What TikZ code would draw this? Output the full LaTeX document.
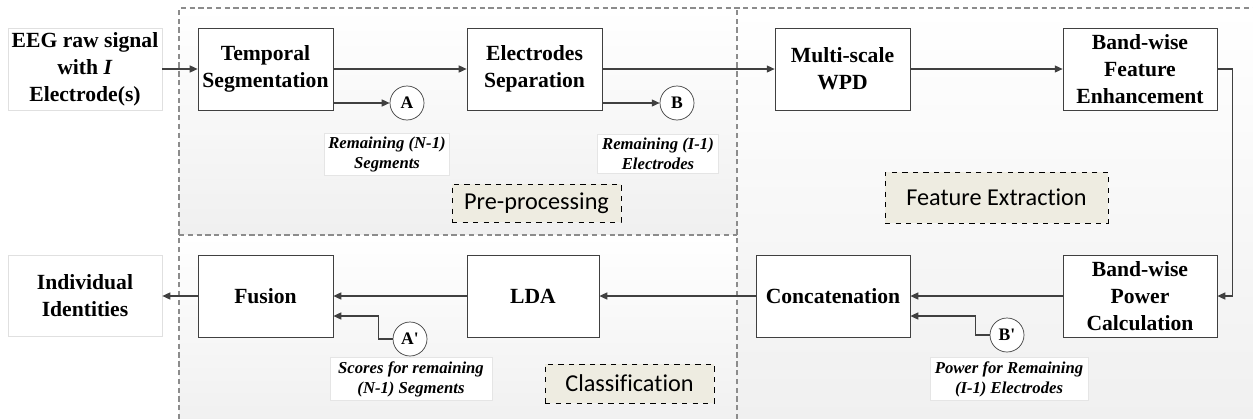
\documentclass[tikz,border=0pt]{standalone}
\usepackage{fontspec}
\setmainfont{Liberation Serif}
\newfontfamily\tagfont[Ligatures=NoCommon]{Carlito}
\usetikzlibrary{arrows.meta}

\definecolor{linegray}{HTML}{404040}
\definecolor{framegray}{HTML}{8C8C8C}
\definecolor{tagfill}{HTML}{EEECE1}

\tikzset{
  block/.style={draw=linegray, fill=white, minimum width=2.7cm, minimum height=1.64cm,
    inner sep=1pt, align=center, font=\bfseries\fontsize{12.3}{15.4}\selectfont},
  iobox/.style={draw=black!12, fill=white, minimum width=3.08cm, minimum height=1.64cm,
    inner sep=1pt, align=center, font=\bfseries\fontsize{12.3}{15.4}\selectfont},
  joint/.style={circle, draw=linegray, fill=white, minimum size=0.68cm, inner sep=0pt,
    font=\bfseries\fontsize{10}{12}\selectfont},
  note/.style={draw=black!10, fill=white, inner sep=2pt, align=center,
    font=\bfseries\itshape\fontsize{9.5}{11.4}\selectfont},
  tagbox/.style={draw=black, dashed, fill=tagfill, minimum height=0.76cm,
    font=\tagfont\fontsize{13.8}{16}\selectfont},
  arr/.style={draw=linegray, line width=0.7pt, -{Triangle[length=4.5pt,width=4pt]}},
  region/.style={draw=framegray, dash pattern=on 3pt off 2pt, line width=0.6pt}
}

\begin{document}
\begin{tikzpicture}

\useasboundingbox (0,0) rectangle (25.06,8.36);
\clip (0,0) rectangle (25.06,8.36);

% The regions
\shade[top color=white, bottom color=black!6] (3.58,3.66) rectangle (14.74,8.2);
\shade[top color=white, bottom color=black!6] (14.74,-0.2) rectangle (25.3,8.2);
\shade[top color=white, bottom color=black!6] (3.58,-0.2) rectangle (14.74,3.66);
\draw[region] (3.58,-0.2) -- (3.58,8.2) -- (25.3,8.2);
\draw[region] (14.74,-0.2) -- (14.74,8.2);
\draw[region] (3.58,3.66) -- (14.74,3.66);

% The region tags
\node[tagbox, minimum width=3.38cm] (pretag) at (10.73,4.3) {Pre-processing};
\node[tagbox, minimum width=4.46cm, minimum height=1.02cm] (feattag) at (19.93,4.41) {Feature Extraction};
\node[tagbox, minimum width=3.38cm, minimum height=0.78cm] (clstag) at (12.59,0.69) {Classification};

% The upper row
\node[iobox] (eeg) at (1.7,6.98) {EEG raw signal\\with \textit{I}\\Electrode(s)};
\node[block] (temp) at (5.31,6.98) {Temporal\\Segmentation};
\node[block] (elec) at (10.69,6.98) {Electrodes\\Separation};
\node[block] (wpd) at (16.85,6.98) {Multi-scale\\WPD};
\node[block, minimum width=3.08cm] (bfe) at (22.8,6.98) {Band-wise\\Feature\\Enhancement};

% The lower row
\node[iobox, minimum height=1.62cm] (ident) at (1.7,2.44) {Individual\\Identities};
\node[block] (fus) at (5.31,2.44) {Fusion};
\node[block, minimum width=2.64cm] (lda) at (10.66,2.44) {LDA};
\node[block, minimum width=3.08cm] (conc) at (16.66,2.44) {Concatenation};
\node[block, minimum width=3.08cm] (bpc) at (22.8,2.44) {Band-wise\\Power\\Calculation};

% The joints
\node[joint] (a) at (8.14,6.3) {A};
\node[joint] (b) at (13.54,6.3) {B};
\node[joint] (ap) at (8.2,1.58) {A\textquotesingle};
\node[joint] (bp) at (20.14,1.66) {B\textquotesingle};

% The notes
\node[note, minimum width=2.48cm] (anote) at (7.74,5.28) {Remaining (N-1)\\Segments};
\node[note, minimum width=2.42cm] (bnote) at (13.16,5.28) {Remaining (I-1)\\Electrodes};
\node[note, minimum width=3.24cm] (apnote) at (8.22,0.78) {Scores for remaining\\(N-1) Segments};
\node[note, minimum width=3.16cm] (bpnote) at (20.18,0.78) {Power for Remaining\\(I-1) Electrodes};

% The main flow
\draw[arr] (eeg) -- (temp);
\draw[arr] (temp) -- (elec);
\draw[arr] (elec) -- (wpd);
\draw[arr] (wpd) -- (bfe);
\draw[arr] (bfe.east) -- ++(0.3,0) |- (bpc.east);
\draw[arr] (bpc) -- (conc);
\draw[arr] (conc) -- (lda);
\draw[arr] (lda) -- (fus);
\draw[arr] (fus) -- (ident);

% The side branches
\draw[arr] (temp.east |- a) -- (a);
\draw[arr] (elec.east |- b) -- (b);
\draw[arr] (ap.west) -- ++(-0.28,0) |- ([yshift=-0.4cm]fus.east);
\draw[arr] (bp.west) -- ++(-0.28,0) |- ([yshift=-0.4cm]conc.east);

\end{tikzpicture}
\end{document}
